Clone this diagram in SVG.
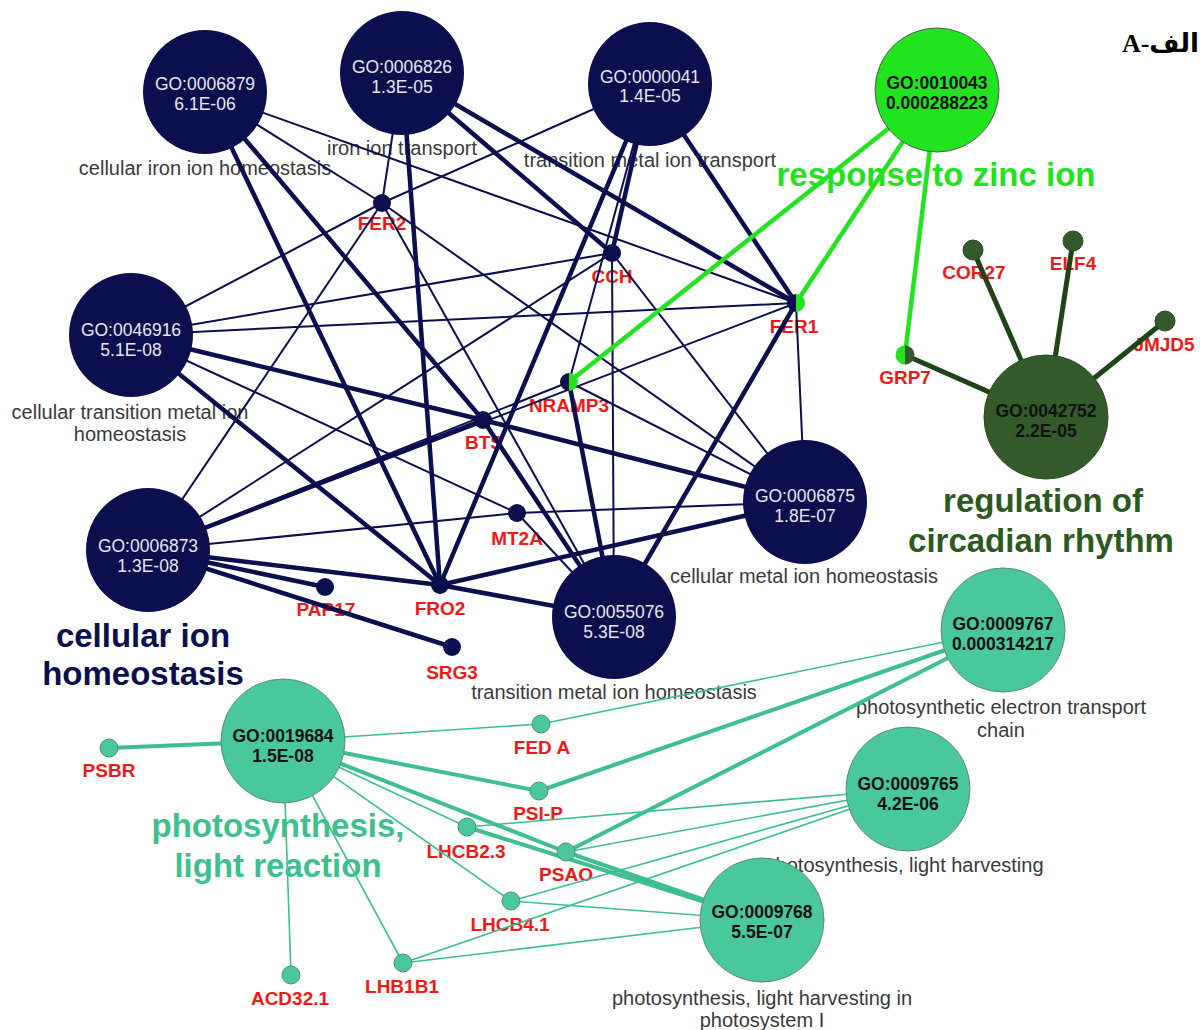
<svg xmlns="http://www.w3.org/2000/svg" width="1200" height="1030" viewBox="0 0 1200 1030">
<style>
text{font-family:"Liberation Sans",Arial,sans-serif}
.go{font-size:20px;fill:#3a3a3a;text-anchor:middle}
.gn{font-size:19px;font-weight:bold;fill:#f01818;text-anchor:middle}
.tt{font-size:33px;font-weight:bold;text-anchor:middle}
.nv{stroke:#0c0f4e;stroke-width:2}
.nvk{stroke:#0c0f4e;stroke-width:4.5}
.zn{stroke:#22e41e;stroke-width:4.5}
.cr{stroke:#1f4417;stroke-width:5}
.tl{stroke:#3dbf8f;stroke-width:1.6}
.tk{stroke:#3dbf8f;stroke-width:4}
.cn{fill:#0c0f4e}
.cz{fill:#22e41e;stroke:#555;stroke-width:1}
.cc{fill:#34592a;stroke:#2a4a20;stroke-width:1}
.ct{fill:#48c89b;stroke:#5e8a78;stroke-width:1}
.wt{font-size:17.5px;fill:#e6e6f0;text-anchor:middle}
.bk{font-size:17.5px;font-weight:bold;fill:#111;text-anchor:middle}
</style>
<rect width="1200" height="1030" fill="#fff"/>

<g id="labels">
  <text class="go" x="205" y="175">cellular iron ion homeostasis</text>
  <text class="go" x="402" y="155">iron ion transport</text>
  <text class="go" x="650" y="167">transition metal ion transport</text>
  <text class="go" x="130" y="419">cellular transition metal ion</text>
  <text class="go" x="130" y="441">homeostasis</text>
  <text class="go" x="804" y="583">cellular metal ion homeostasis</text>
  <text class="go" x="614" y="699">transition metal ion homeostasis</text>
  <text class="go" x="1001" y="714">photosynthetic electron transport</text>
  <text class="go" x="1001" y="737">chain</text>
  <text class="go" x="904" y="872">photosynthesis, light harvesting</text>
  <text class="go" x="762" y="1005">photosynthesis, light harvesting in</text>
  <text class="go" x="762" y="1027">photosystem I</text>

  <text class="tt" x="143" y="647" fill="#0c0f4e">cellular ion</text>
  <text class="tt" x="143" y="685" fill="#0c0f4e">homeostasis</text>
  <text class="tt" x="936" y="186" fill="#22e21e">response to zinc ion</text>
  <text class="tt" x="1043" y="512" fill="#2c5a1e">regulation of</text>
  <text class="tt" x="1041" y="552" fill="#2c5a1e">circadian rhythm</text>
  <text class="tt" x="278" y="837" fill="#3dbf8e">photosynthesis,</text>
  <text class="tt" x="278" y="877" fill="#3dbf8e">light reaction</text>

  <text class="gn" x="382" y="230">FER2</text>
  <text class="gn" x="612" y="283">CCH</text>
  <text class="gn" x="794" y="333">FER1</text>
  <text class="gn" x="569" y="412">NRAMP3</text>
  <text class="gn" x="484" y="449">BTS</text>
  <text class="gn" x="517" y="545">MT2A</text>
  <text class="gn" x="440" y="615">FRO2</text>
  <text class="gn" x="326" y="616">PAP17</text>
  <text class="gn" x="452" y="679">SRG3</text>
  <text class="gn" x="905" y="384">GRP7</text>
  <text class="gn" x="974" y="279">COR27</text>
  <text class="gn" x="1073" y="270">ELF4</text>
  <text class="gn" x="1164" y="351">JMJD5</text>
  <text class="gn" x="109" y="777">PSBR</text>
  <text class="gn" x="290" y="1005">ACD32.1</text>
  <text class="gn" x="402" y="993">LHB1B1</text>
  <text class="gn" x="542" y="754">FED A</text>
  <text class="gn" x="538" y="820">PSI-P</text>
  <text class="gn" x="466" y="858">LHCB2.3</text>
  <text class="gn" x="566" y="881">PSAO</text>
  <text class="gn" x="510" y="931">LHCB4.1</text>
</g>

<g id="connectors">
  <line class="nv" x1="205" y1="92" x2="382" y2="203"/>
  <line class="nv" x1="205" y1="92" x2="796" y2="303"/>
  <line class="nvk" x1="205" y1="92" x2="483" y2="420"/>
  <line class="nvk" x1="205" y1="92" x2="440" y2="585"/>
  <line class="nv" x1="402" y1="73" x2="382" y2="203"/>
  <line class="nvk" x1="402" y1="73" x2="440" y2="585"/>
  <line class="nvk" x1="402" y1="73" x2="612" y2="253"/>
  <line class="nvk" x1="402" y1="73" x2="796" y2="303"/>
  <line class="nv" x1="650" y1="84" x2="382" y2="203"/>
  <line class="nvk" x1="650" y1="84" x2="796" y2="303"/>
  <line class="nvk" x1="650" y1="84" x2="612" y2="253"/>
  <line class="nv" x1="650" y1="84" x2="569" y2="382"/>
  <line class="nvk" x1="650" y1="84" x2="440" y2="585"/>
  <line class="nv" x1="131" y1="335" x2="382" y2="203"/>
  <line class="nv" x1="131" y1="335" x2="612" y2="253"/>
  <line class="nv" x1="131" y1="335" x2="796" y2="303"/>
  <line class="nvk" x1="131" y1="335" x2="483" y2="420"/>
  <line class="nv" x1="131" y1="335" x2="517" y2="513"/>
  <line class="nvk" x1="131" y1="335" x2="440" y2="585"/>
  <line class="nv" x1="148" y1="550" x2="382" y2="203"/>
  <line class="nv" x1="148" y1="550" x2="612" y2="253"/>
  <line class="nvk" x1="148" y1="550" x2="483" y2="420"/>
  <line class="nv" x1="148" y1="550" x2="569" y2="382"/>
  <line class="nv" x1="148" y1="550" x2="796" y2="303"/>
  <line class="nv" x1="148" y1="550" x2="517" y2="513"/>
  <line class="nvk" x1="148" y1="550" x2="440" y2="585"/>
  <line class="nvk" x1="148" y1="550" x2="325" y2="587"/>
  <line class="nvk" x1="148" y1="550" x2="452" y2="647"/>
  <line class="nvk" x1="614" y1="617" x2="796" y2="303"/>
  <line class="nv" x1="614" y1="617" x2="612" y2="253"/>
  <line class="nv" x1="614" y1="617" x2="382" y2="203"/>
  <line class="nvk" x1="614" y1="617" x2="483" y2="420"/>
  <line class="nvk" x1="614" y1="617" x2="569" y2="382"/>
  <line class="nv" x1="614" y1="617" x2="517" y2="513"/>
  <line class="nvk" x1="614" y1="617" x2="440" y2="585"/>
  <line class="nv" x1="805" y1="502" x2="796" y2="303"/>
  <line class="nv" x1="805" y1="502" x2="612" y2="253"/>
  <line class="nv" x1="805" y1="502" x2="382" y2="203"/>
  <line class="nvk" x1="805" y1="502" x2="483" y2="420"/>
  <line class="nv" x1="805" y1="502" x2="517" y2="513"/>
  <line class="nvk" x1="805" y1="502" x2="440" y2="585"/>
  <line class="nv" x1="805" y1="502" x2="569" y2="382"/>
  <line class="zn" x1="937" y1="90" x2="796" y2="303"/>
  <line class="zn" x1="937" y1="90" x2="569" y2="382"/>
  <line class="zn" x1="937" y1="90" x2="905" y2="355"/>
  <line class="cr" x1="1046" y1="417" x2="905" y2="355"/>
  <line class="cr" x1="1046" y1="417" x2="973" y2="250"/>
  <line class="cr" x1="1046" y1="417" x2="1073" y2="241"/>
  <line class="cr" x1="1046" y1="417" x2="1165" y2="321"/>
  <line class="tk" x1="283" y1="741" x2="109" y2="748"/>
  <line class="tl" x1="283" y1="741" x2="541" y2="724"/>
  <line class="tk" x1="283" y1="741" x2="539" y2="791"/>
  <line class="tk" x1="283" y1="741" x2="566" y2="852"/>
  <line class="tl" x1="283" y1="741" x2="467" y2="827"/>
  <line class="tl" x1="283" y1="741" x2="511" y2="901"/>
  <line class="tl" x1="283" y1="741" x2="403" y2="963"/>
  <line class="tl" x1="283" y1="741" x2="291" y2="975"/>
  <line class="tl" x1="1003" y1="630" x2="541" y2="724"/>
  <line class="tk" x1="1003" y1="630" x2="539" y2="791"/>
  <line class="tk" x1="1003" y1="630" x2="566" y2="852"/>
  <line class="tl" x1="908" y1="789" x2="467" y2="827"/>
  <line class="tl" x1="908" y1="789" x2="566" y2="852"/>
  <line class="tl" x1="908" y1="789" x2="511" y2="901"/>
  <line class="tl" x1="908" y1="789" x2="403" y2="963"/>
  <line class="tk" x1="762" y1="920" x2="467" y2="827"/>
  <line class="tk" x1="762" y1="920" x2="566" y2="852"/>
  <line class="tl" x1="762" y1="920" x2="511" y2="901"/>
  <line class="tl" x1="762" y1="920" x2="403" y2="963"/>
</g>

<g id="GO0006879"><circle class="cn" cx="205" cy="92" r="62"/><text class="wt" x="205" y="90">GO:0006879<tspan x="205" y="110">6.1E-06</tspan></text></g>
<g id="GO0006826"><circle class="cn" cx="402" cy="73" r="62"/><text class="wt" x="402" y="73">GO:0006826<tspan x="402" y="93">1.3E-05</tspan></text></g>
<g id="GO0000041"><circle class="cn" cx="650" cy="84" r="62"/><text class="wt" x="650" y="83">GO:0000041<tspan x="650" y="102">1.4E-05</tspan></text></g>
<g id="GO0046916"><circle class="cn" cx="131" cy="335" r="62"/><text class="wt" x="131" y="336">GO:0046916<tspan x="131" y="356">5.1E-08</tspan></text></g>
<g id="GO0006873"><circle class="cn" cx="148" cy="550" r="62"/><text class="wt" x="148" y="552">GO:0006873<tspan x="148" y="572">1.3E-08</tspan></text></g>
<g id="GO0055076"><circle class="cn" cx="614" cy="617" r="62"/><text class="wt" x="614" y="618">GO:0055076<tspan x="614" y="638">5.3E-08</tspan></text></g>
<g id="GO0006875"><circle class="cn" cx="805" cy="502" r="62"/><text class="wt" x="805" y="502">GO:0006875<tspan x="805" y="522">1.8E-07</tspan></text></g>
<g id="GO0010043"><circle class="cz" cx="937" cy="90" r="62"/><text class="bk" x="937" y="89">GO:0010043<tspan x="937" y="109">0.000288223</tspan></text></g>
<g id="GO0042752"><circle class="cc" cx="1046" cy="417" r="62"/><text class="bk" x="1046" y="417">GO:0042752<tspan x="1046" y="437">2.2E-05</tspan></text></g>
<g id="GO0009767"><circle class="ct" cx="1003" cy="630" r="62"/><text class="bk" x="1003" y="630">GO:0009767<tspan x="1003" y="650">0.000314217</tspan></text></g>
<g id="GO0009765"><circle class="ct" cx="908" cy="789" r="62"/><text class="bk" x="908" y="790">GO:0009765<tspan x="908" y="810">4.2E-06</tspan></text></g>
<g id="GO0009768"><circle class="ct" cx="762" cy="920" r="62"/><text class="bk" x="762" y="918">GO:0009768<tspan x="762" y="938">5.5E-07</tspan></text></g>
<g id="GO0019684"><circle class="ct" cx="283" cy="741" r="62"/><text class="bk" x="283" y="742">GO:0019684<tspan x="283" y="762">1.5E-08</tspan></text></g>

<g id="FER2"><circle class="cn" cx="382" cy="203" r="9"/></g>
<g id="CCH"><circle class="cn" cx="612" cy="253" r="9"/></g>
<g id="FER1"><path d="M796,294 A9,9 0 0 0 796,312 Z" fill="#0c0f4e"/><path d="M796,294 A9,9 0 0 1 796,312 Z" fill="#22e41e"/></g>
<g id="NRAMP3"><path d="M569,373 A9,9 0 0 0 569,391 Z" fill="#0c0f4e"/><path d="M569,373 A9,9 0 0 1 569,391 Z" fill="#22e41e"/></g>
<g id="BTS"><circle class="cn" cx="483" cy="420" r="9"/></g>
<g id="MT2A"><circle class="cn" cx="517" cy="513" r="9"/></g>
<g id="FRO2"><circle class="cn" cx="440" cy="585" r="9"/></g>
<g id="PAP17"><circle class="cn" cx="325" cy="587" r="9"/></g>
<g id="SRG3"><circle class="cn" cx="452" cy="647" r="9"/></g>
<g id="GRP7"><path d="M905,345.5 A9.5,9.5 0 0 0 905,364.5 Z" fill="#22e41e"/><path d="M905,345.5 A9.5,9.5 0 0 1 905,364.5 Z" fill="#34592a"/></g>
<g id="COR27"><circle class="cc" cx="973" cy="250" r="10"/></g>
<g id="ELF4"><circle class="cc" cx="1073" cy="241" r="10"/></g>
<g id="JMJD5"><circle class="cc" cx="1165" cy="321" r="10"/></g>
<g id="PSBR"><circle class="ct" cx="109" cy="748" r="9"/></g>
<g id="FEDA"><circle class="ct" cx="541" cy="724" r="9"/></g>
<g id="PSIP"><circle class="ct" cx="539" cy="791" r="9"/></g>
<g id="LHCB2.3"><circle class="ct" cx="467" cy="827" r="9"/></g>
<g id="PSAO"><circle class="ct" cx="566" cy="852" r="9"/></g>
<g id="LHCB4.1"><circle class="ct" cx="511" cy="901" r="9"/></g>
<g id="LHB1B1"><circle class="ct" cx="403" cy="963" r="9"/></g>
<g id="ACD32.1"><circle class="ct" cx="291" cy="975" r="9"/></g>

<text x="1199" y="52" direction="rtl" text-anchor="start" font-size="26" font-weight="bold" fill="#000" style="font-family:'Liberation Serif','DejaVu Sans',serif">الف-A</text>
</svg>
